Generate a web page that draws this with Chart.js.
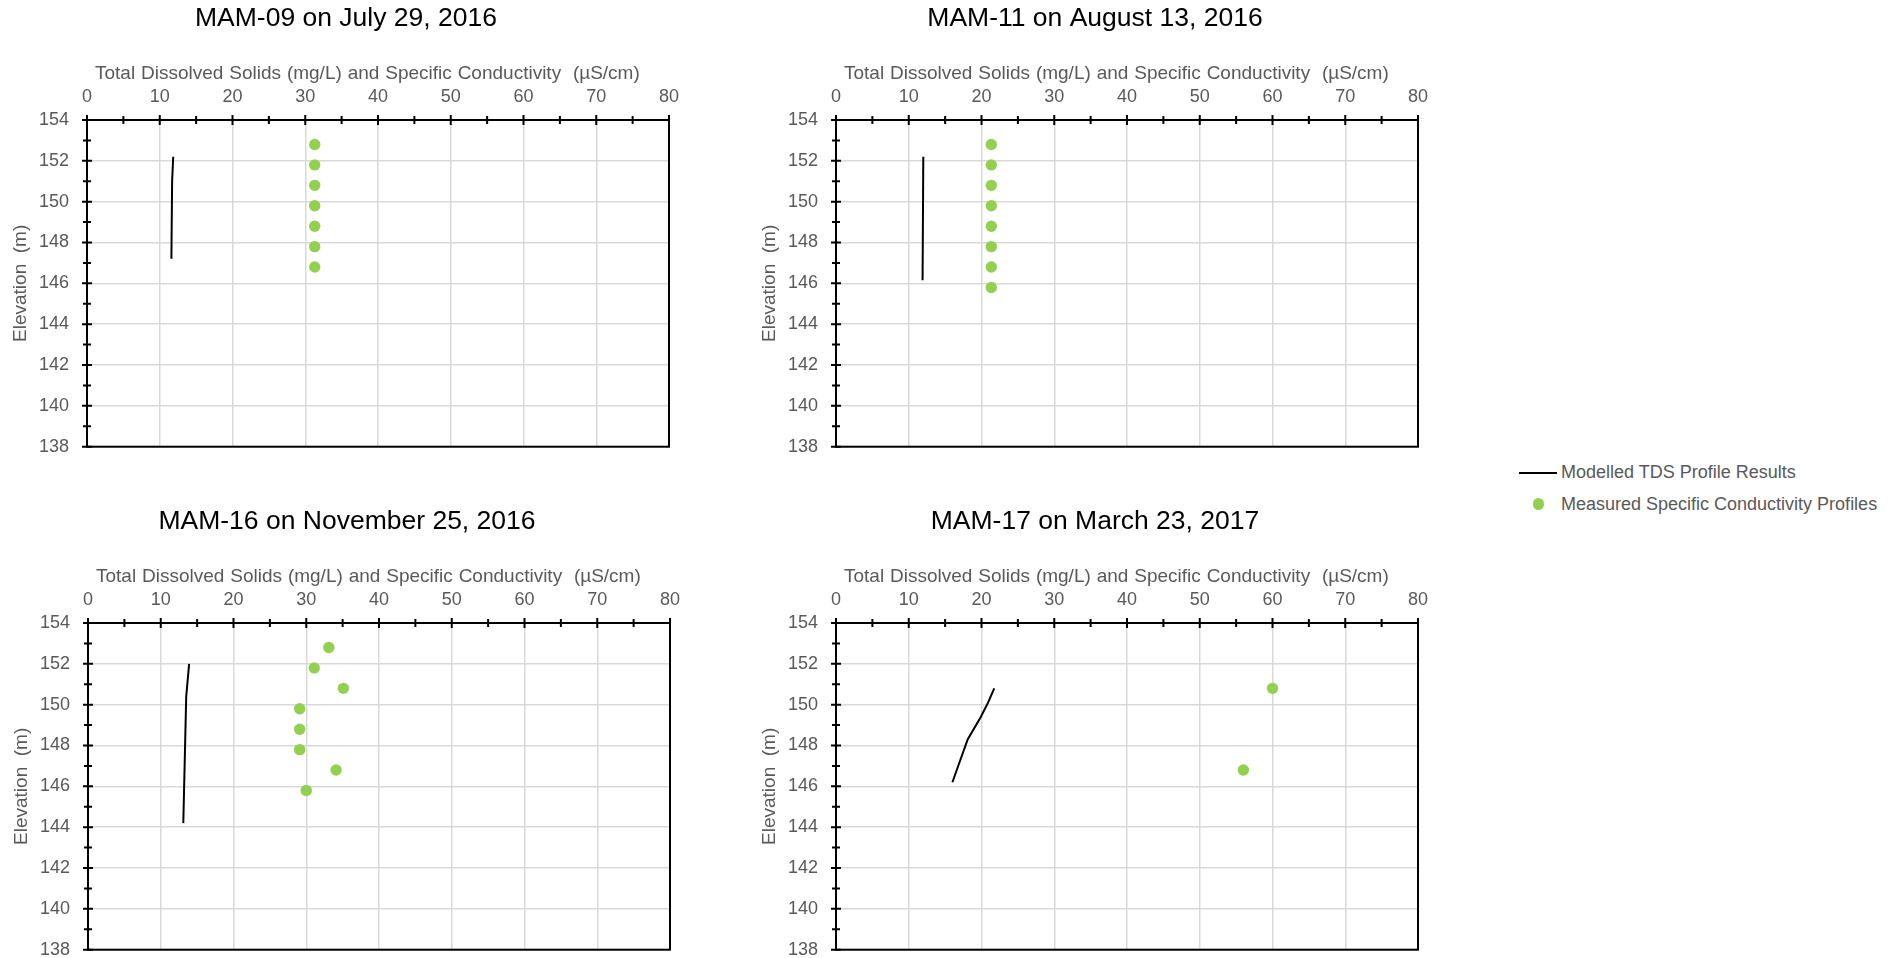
<!DOCTYPE html>
<html>
<head>
<meta charset="utf-8">
<script src="https://cdn.jsdelivr.net/npm/chart.js@4/dist/chart.umd.min.js"></script>
<style>
  html, body { margin: 0; padding: 0; background: #fff; width: 1903px; height: 958px; overflow: hidden; }
  body { font-family: "Liberation Sans", Arial, sans-serif; position: relative; }
  .panel { position: absolute; width: 700px; height: 460px; }
  .legend-line { position: absolute; left: 1519px; top: 471.5px; width: 38px; height: 2.5px; background: #000; }
  .legend-dot { position: absolute; left: 1532.5px; top: 498.2px; width: 11.6px; height: 11.6px; border-radius: 50%; background: #92d050; }
  .legend-text { position: absolute; left: 1561px; font-size: 18px; line-height: 22px; color: #595959; white-space: nowrap; }
</style>
</head>
<body>
<div class="panel" style="left:0px;top:0px"><canvas id="p0"></canvas></div>
<div class="panel" style="left:749px;top:0px"><canvas id="p1"></canvas></div>
<div class="panel" style="left:1px;top:503px"><canvas id="p2"></canvas></div>
<div class="panel" style="left:749px;top:503px"><canvas id="p3"></canvas></div>
<div class="legend-line"></div>
<div class="legend-text" id="leg0" style="top:461px"></div>
<div class="legend-dot"></div>
<div class="legend-text" id="leg1" style="top:493px"></div>

<script>
// Panel titles and shared axis text
const panelTitles = [
  'MAM-09 on July 29, 2016',
  'MAM-11 on August 13, 2016',
  'MAM-16 on November 25, 2016',
  'MAM-17 on March 23, 2017'
];
const xAxisTitle = 'Total Dissolved Solids (mg/L) and Specific Conductivity  (\u00b5S/cm)';
const yAxisTitle = 'Elevation  (m)';
const seriesNames = ['Modelled TDS Profile Results', 'Measured Specific Conductivity Profiles'];

// Axis tick values
const conductivityTicks = [0, 10, 20, 30, 40, 50, 60, 70, 80];
const elevationTicks = [138, 140, 142, 144, 146, 148, 150, 152, 154];

// MAM-09
const mam09ModelElev = [147.2, 151.0, 152.2];
const mam09ModelTds = [11.6, 11.7, 11.85];
const mam09MeasElev = [152.8, 151.8, 150.8, 149.8, 148.8, 147.8, 146.8];
const mam09MeasCond = [31.3, 31.3, 31.3, 31.3, 31.3, 31.3, 31.3];

// MAM-11
const mam11ModelElev = [146.15, 152.2];
const mam11ModelTds = [11.9, 12.0];
const mam11MeasElev = [152.8, 151.8, 150.8, 149.8, 148.8, 147.8, 146.8, 145.8];
const mam11MeasCond = [21.35, 21.35, 21.35, 21.35, 21.35, 21.35, 21.35, 21.35];

// MAM-16
const mam16ModelElev = [144.2, 150.4, 152.0];
const mam16ModelTds = [13.1, 13.5, 13.9];
const mam16MeasElev = [152.8, 151.8, 150.8, 149.8, 148.8, 147.8, 146.8, 145.8];
const mam16MeasCond = [33.1, 31.1, 35.1, 29.1, 29.1, 29.1, 34.1, 30.0];

// MAM-17
const mam17ModelElev = [146.2, 148.3, 149.4, 150.1, 150.8];
const mam17ModelTds = [16.0, 18.1, 19.9, 20.9, 21.75];
const mam17MeasElev = [150.8, 146.8];
const mam17MeasCond = [60.0, 56.0];

const FONT = '"Liberation Sans", Arial, sans-serif';
const GREY = '#595959';
Chart.defaults.font.family = FONT;
Chart.defaults.color = GREY;

// Black frame around the plot, crossing tick marks, and the panel / axis titles
const panelFrame = {
  id: 'panelFrame',
  afterDraw(chart, args, opts) {
    const { ctx, chartArea: a, scales: { x, y } } = chart;
    ctx.save();
    ctx.strokeStyle = '#000';
    ctx.lineWidth = 2;
    ctx.strokeRect(a.left, a.top, a.right - a.left, a.bottom - a.top);

    ctx.beginPath();
    conductivityTicks.forEach((v, i) => {
      const px = x.getPixelForValue(v);
      ctx.moveTo(px, a.top - 5); ctx.lineTo(px, a.top + 5);
      if (i < conductivityTicks.length - 1) {
        const mx = x.getPixelForValue((v + conductivityTicks[i + 1]) / 2);
        ctx.moveTo(mx, a.top - 4); ctx.lineTo(mx, a.top + 4);
      }
    });
    elevationTicks.forEach((v, i) => {
      const py = y.getPixelForValue(v);
      ctx.moveTo(a.left - 5, py); ctx.lineTo(a.left + 5, py);
      if (i < elevationTicks.length - 1) {
        const my = y.getPixelForValue((v + elevationTicks[i + 1]) / 2);
        ctx.moveTo(a.left - 4, my); ctx.lineTo(a.left + 4, my);
      }
    });
    ctx.stroke();

    ctx.textBaseline = 'middle';
    ctx.fillStyle = GREY;
    ctx.font = '19px ' + FONT;
    ctx.textAlign = 'left';
    if ('wordSpacing' in ctx) ctx.wordSpacing = '0.6px';
    ctx.fillText(xAxisTitle, a.left + 8, a.top - 46.5);
    if ('wordSpacing' in ctx) ctx.wordSpacing = '0px';

    ctx.fillStyle = '#000';
    ctx.font = '26.5px ' + FONT;
    ctx.textAlign = 'center';
    ctx.fillText(opts.title, (a.left + a.right) / 2 - 32, a.top - 101);
    ctx.restore();
  }
};

const pairs = (xs, ys) => xs.map((v, i) => ({ x: v, y: ys[i] }));

function makePanel(id, title, modelTds, modelElev, measCond, measElev) {
  return new Chart(document.getElementById(id), {
    type: 'scatter',
    data: {
      datasets: [
        {
          label: seriesNames[0],
          data: pairs(modelTds, modelElev),
          showLine: true,
          borderColor: '#000',
          backgroundColor: '#000',
          borderWidth: 2,
          pointRadius: 0,
          pointHoverRadius: 0,
          tension: 0
        },
        {
          label: seriesNames[1],
          data: pairs(measCond, measElev),
          showLine: false,
          pointRadius: 5.7,
          pointHoverRadius: 5.7,
          pointBorderWidth: 0,
          pointBackgroundColor: '#92d050',
          backgroundColor: '#92d050',
          borderColor: '#92d050'
        }
      ]
    },
    options: {
      responsive: true,
      maintainAspectRatio: false,
      animation: false,
      events: [],
      layout: { padding: { left: 0, top: 0, right: 31, bottom: 13.3 } },
      plugins: {
        legend: { display: false },
        tooltip: { enabled: false },
        title: { display: false },
        panelFrame: { title }
      },
      scales: {
        x: {
          type: 'linear',
          position: 'top',
          min: conductivityTicks[0],
          max: conductivityTicks[conductivityTicks.length - 1],
          afterBuildTicks: s => { s.ticks = conductivityTicks.map(v => ({ value: v })); },
          afterFit: s => { s.height = 120; },
          grid: { color: '#d9d9d9', lineWidth: 1.5, drawTicks: false },
          border: { display: false },
          ticks: { padding: 12, color: GREY, font: { size: 18 }, maxRotation: 0, autoSkip: false }
        },
        y: {
          type: 'linear',
          position: 'left',
          min: elevationTicks[0],
          max: elevationTicks[elevationTicks.length - 1],
          afterBuildTicks: s => { s.ticks = elevationTicks.map(v => ({ value: v })); },
          afterFit: s => { s.width = 87; s.paddingTop = 0; s.paddingBottom = 0; },
          grid: { color: '#d9d9d9', lineWidth: 1.5, drawTicks: false },
          border: { display: false },
          ticks: { padding: 18, color: GREY, font: { size: 18 }, autoSkip: false },
          title: { display: true, text: yAxisTitle, color: GREY, font: { size: 19 }, padding: { top: 9, bottom: 0 } }
        }
      }
    },
    plugins: [panelFrame]
  });
}

makePanel('p0', panelTitles[0], mam09ModelTds, mam09ModelElev, mam09MeasCond, mam09MeasElev);
makePanel('p1', panelTitles[1], mam11ModelTds, mam11ModelElev, mam11MeasCond, mam11MeasElev);
makePanel('p2', panelTitles[2], mam16ModelTds, mam16ModelElev, mam16MeasCond, mam16MeasElev);
makePanel('p3', panelTitles[3], mam17ModelTds, mam17ModelElev, mam17MeasCond, mam17MeasElev);

document.getElementById('leg0').textContent = seriesNames[0];
document.getElementById('leg1').textContent = seriesNames[1];
</script>
</body>
</html>
